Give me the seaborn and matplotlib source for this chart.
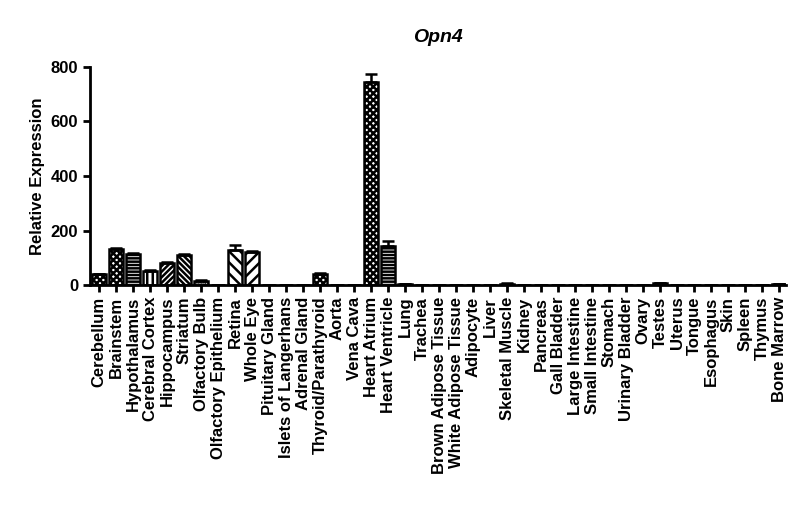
import matplotlib
matplotlib.use("Agg")
import matplotlib.pyplot as plt
import seaborn as sns
import pandas as pd
import numpy as np

tissues = ["Cerebellum", "Brainstem", "Hypothalamus", "Cerebral Cortex", "Hippocampus",
           "Striatum", "Olfactory Bulb", "Olfactory Epithelium", "Retina", "Whole Eye",
           "Pituitary Gland", "Islets of Langerhans", "Adrenal Gland", "Thyroid/Parathyroid",
           "Aorta", "Vena Cava", "Heart Atrium", "Heart Ventricle", "Lung", "Trachea",
           "Brown Adipose Tissue", "White Adipose Tissue", "Adipocyte", "Liver",
           "Skeletal Muscle", "Kidney", "Pancreas", "Gall Bladder", "Large Intestine",
           "Small Intestine", "Stomach", "Urinary Bladder", "Ovary", "Testes", "Uterus",
           "Tongue", "Esophagus", "Skin", "Spleen", "Thymus", "Bone Marrow"]
expression = [40, 133, 113, 53, 80, 112, 16, 1, 130, 122,
              0.5, 0.5, 0.5, 40, 0.3, 0.3, 745, 142, 3, 1,
              1, 1, 0.5, 0.5, 5, 1, 0.5, 0.5, 0.5, 0.5,
              1, 1, 0.5, 7, 1, 1, 1, 0.5, 0.5, 0.5, 4]
sem = [2, 4, 3, 3, 3, 3, 2, 0, 18, 3,
       0, 0, 0, 4, 0, 0, 28, 18, 0, 0,
       0, 0, 0, 0, 1, 0, 0, 0, 0, 0,
       0, 0, 0, 1, 0, 0, 0, 0, 0, 0, 1]

df = pd.DataFrame({"tissue": tissues, "expr": expression})

sns.set_style("ticks")
plt.rcParams["font.family"] = ["Liberation Sans", "DejaVu Sans"]
plt.rcParams["font.weight"] = "bold"
plt.rcParams["text.color"] = "black"
plt.rcParams["axes.labelcolor"] = "black"
plt.rcParams["hatch.linewidth"] = 1.8

fig = plt.figure(figsize=(8, 5.23), dpi=100)
ax = fig.add_axes([0.1125, 0.455, 0.87, 0.417])

sns.barplot(data=df, x="tissue", y="expr", color="white", edgecolor="black",
            linewidth=1.8, width=0.8, errorbar=None, ax=ax)

# Prism-like pattern cycle
patterns = ["xxxxx", "xxxxx", "-----", "|||", "//////", "\\\\\\\\\\\\", "....", "oo",
            "\\\\\\", "///", "++", "xx", "--", "xxxxx", "|"]
for i, bar in enumerate(ax.patches):
    bar.set_hatch(patterns[i % len(patterns)])

x = np.arange(len(tissues))
ax.errorbar(x, expression, yerr=[np.zeros(len(sem)), sem], fmt="none",
            ecolor="black", elinewidth=1.8, capsize=4, capthick=1.8)

ax.set_xlim(-0.53, 40.4)
ax.set_ylim(0, 800)
ax.set_yticks([0, 200, 400, 600, 800])
ax.set_xlabel("")
ax.set_ylabel("Relative Expression", fontsize=12, fontweight="bold",
              color="black", labelpad=4)
ax.set_title("Opn4", fontsize=14, fontweight="bold", fontstyle="italic",
             color="black", pad=18)
ax.tick_params(axis="x", labelrotation=90, labelsize=12, width=2, length=5,
               colors="black")
ax.tick_params(axis="y", labelsize=12, width=2, length=5, colors="black")
for lab in ax.get_xticklabels() + ax.get_yticklabels():
    lab.set_fontweight("bold")
sns.despine(ax=ax)
for s in ["left", "bottom"]:
    ax.spines[s].set_linewidth(2)
    ax.spines[s].set_color("black")

fig.savefig("out.png", dpi=100)
